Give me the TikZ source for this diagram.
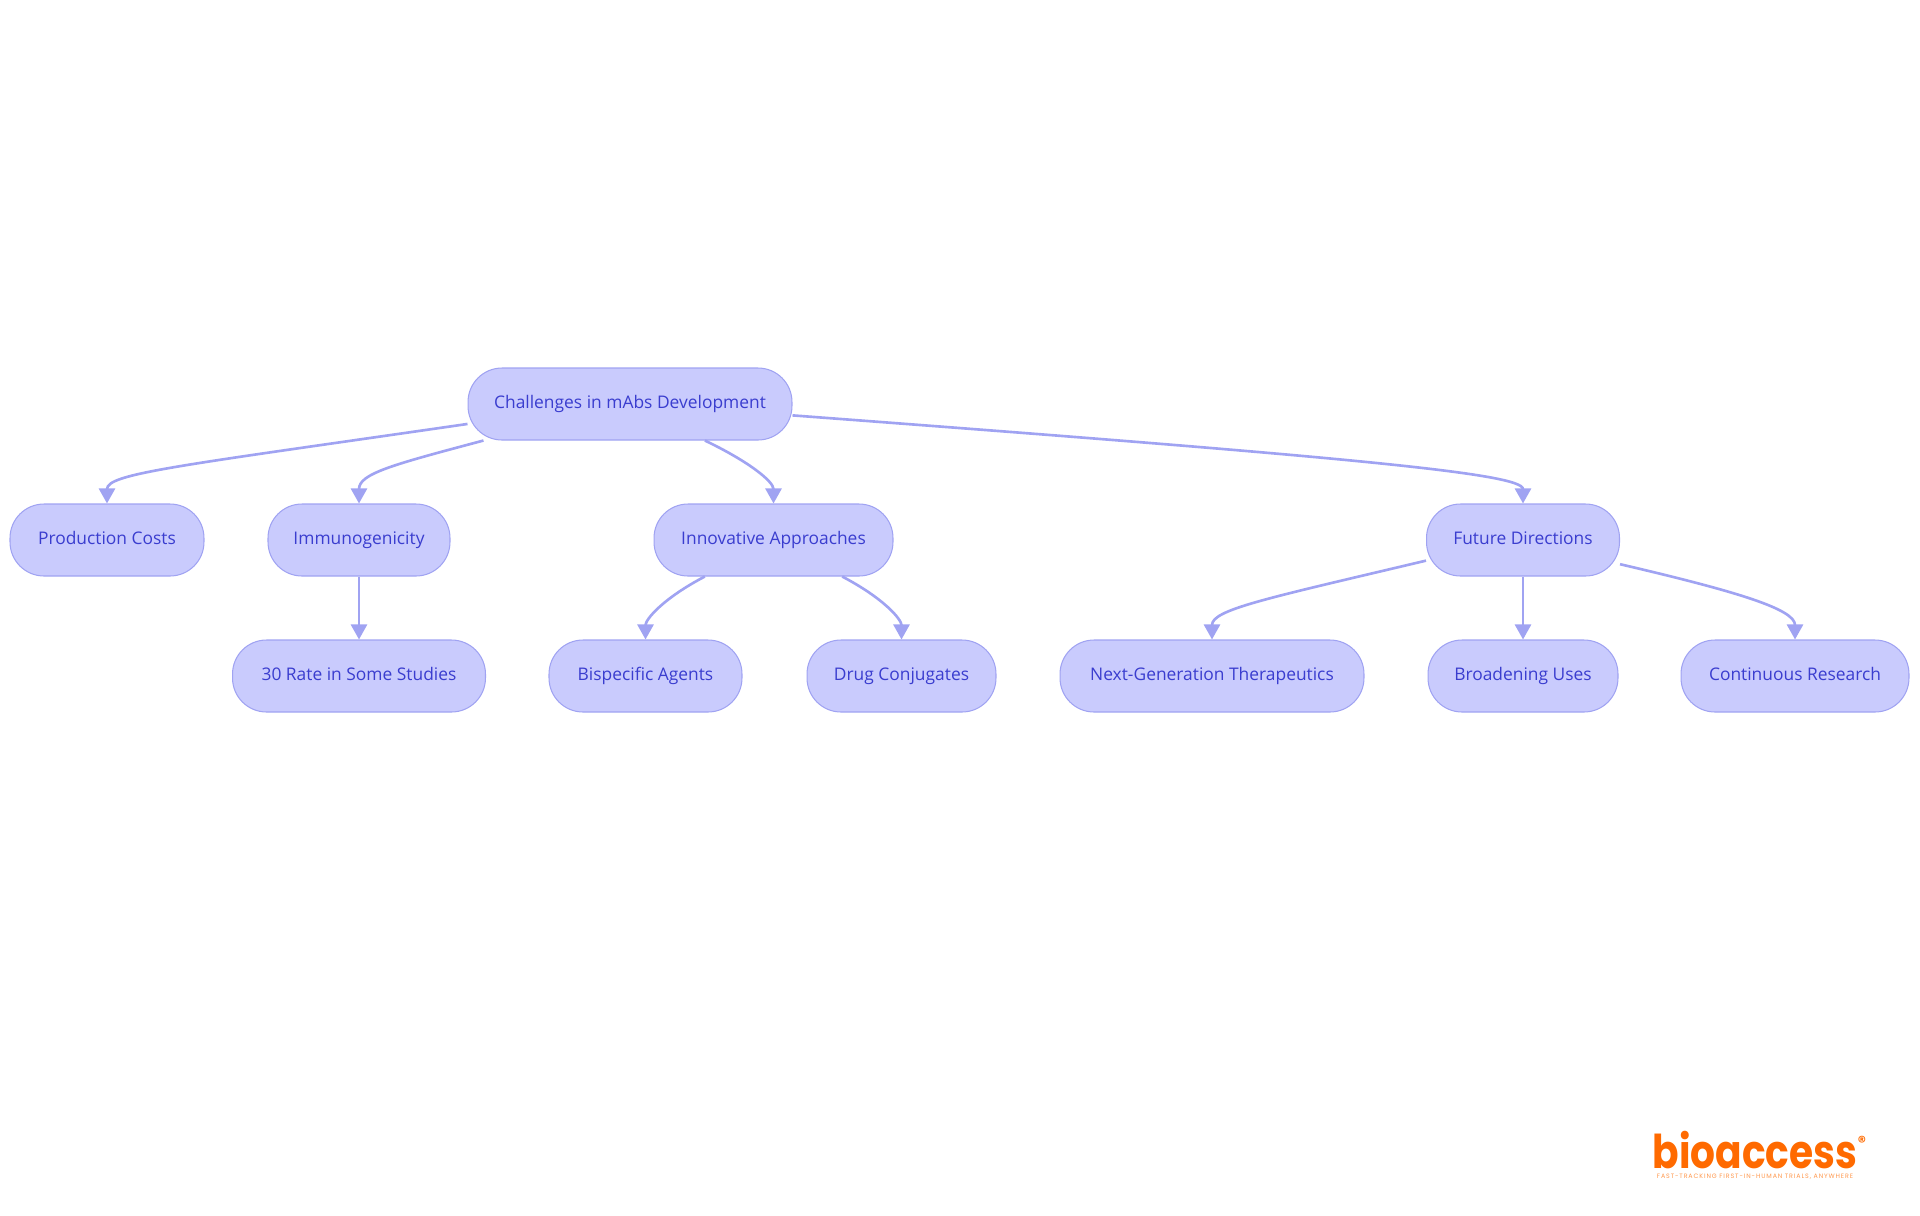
\documentclass[tikz,border=0pt]{standalone}
\usepackage{fontspec}
\setmainfont{Open Sans}
\newfontfamily\logofont{Poppins}
\newfontfamily\taglinefont[LetterSpace=14]{Poppins}
\usetikzlibrary{arrows.meta}
\definecolor{boxfill}{HTML}{C9CBFD}
\definecolor{boxline}{HTML}{A0A3F2}
\definecolor{boxtext}{HTML}{3A3DCF}
\definecolor{logoorange}{HTML}{FF6A00}
\begin{document}
\begin{tikzpicture}[x=0.02cm, y=-0.02cm,
    topic/.style={draw=boxline, fill=boxfill, text=boxtext, rounded corners=0.68cm,
      line width=0.6pt, minimum height=1.44cm, inner sep=0pt, text height=0.72em, text depth=0.22em,
      font=\fontsize{9.9}{12}\selectfont},
    edge/.style={draw=boxline, line width=1.5pt, -{Triangle[length=0.3cm, width=0.32cm]}}]
  \useasboundingbox (0,0) rectangle (1920,1215);

  % Top node
  \node[topic, minimum width=6.48cm] (root) at (630,404) {Challenges in mAbs Development};

  % Second row
  \node[topic, minimum width=3.88cm] (costs) at (107,540) {Production Costs};
  \node[topic, minimum width=3.64cm] (immuno) at (359,540) {Immunogenicity};
  \node[topic, minimum width=4.78cm] (innov) at (773.5,540) {Innovative Approaches};
  \node[topic, minimum width=3.86cm] (future) at (1523,540) {Future Directions};

  % Third row
  \node[topic, minimum width=5.06cm] (rate) at (359,676) {30 Rate in Some Studies};
  \node[topic, minimum width=3.86cm] (bispec) at (645.5,676) {Bispecific Agents};
  \node[topic, minimum width=3.78cm] (drug) at (901.5,676) {Drug Conjugates};
  \node[topic, minimum width=6.08cm] (nextgen) at (1212,676) {Next-Generation Therapeutics};
  \node[topic, minimum width=3.80cm] (uses) at (1523,676) {Broadening Uses};
  \node[topic, minimum width=4.56cm] (research) at (1795,676) {Continuous Research};

  % Edges from the top node
  \draw[edge] (root.187.4) .. controls +(-290,42) and +(0,-30) .. (costs.north);
  \draw[edge] (root.194) .. controls +(-90,24) and +(0,-30) .. (immuno.north);
  \draw[edge] (root.334.7) .. controls +(44,21) and +(0,-22) .. (innov.north);
  \draw[edge] (root.-4.2) .. controls +(560,42) and +(0,-30) .. (future.north);

  % Edges from the second row
  \draw[edge] (immuno) -- (rate);
  \draw[edge] (innov.208.2) .. controls +(-42,22) and +(0,-20) .. (bispec.north);
  \draw[edge] (innov.-28) .. controls +(42,22) and +(0,-20) .. (drug.north);
  \draw[edge] (future.192.2) .. controls +(-160,38) and +(0,-30) .. (nextgen.north);
  \draw[edge] (future) -- (uses);
  \draw[edge] (future.-14) .. controls +(120,28) and +(0,-30) .. (research.north);

  % Logo
  \node[inner sep=0pt, xscale=0.84, text=logoorange, font=\logofont\bfseries\fontsize{26.5}{26.5}\selectfont] (logo) at (1755,1150) {bioaccess};
  \node[inner sep=0pt, text=logoorange!70, font=\taglinefont\fontsize{3.6}{4}\selectfont] (tagline) at (1755,1177) {FAST-TRACKING FIRST-IN-HUMAN TRIALS, ANYWHERE};
  \node[inner sep=0pt, text=logoorange, font=\logofont\bfseries\fontsize{9}{9}\selectfont] (regmark) at (1862,1142) {®};
\end{tikzpicture}
\end{document}
